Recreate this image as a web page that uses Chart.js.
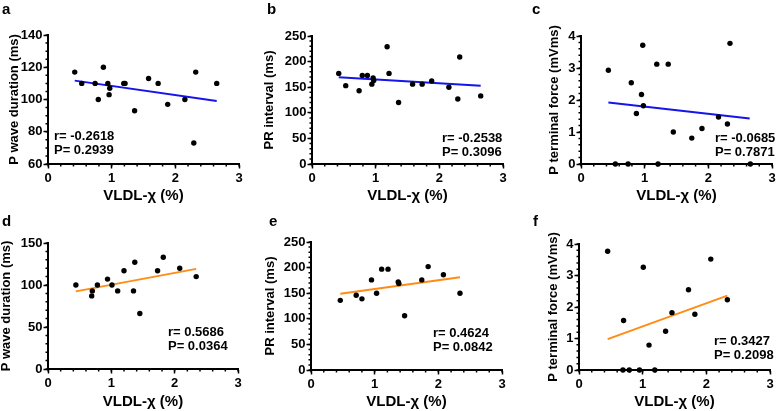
<!DOCTYPE html>
<html>
<head>
<meta charset="utf-8">
<script src="https://cdn.jsdelivr.net/npm/chart.js@4/dist/chart.umd.min.js"></script>
<style>
  body { margin: 0; background: #fff; }
  #wrap { position: relative; width: 778px; height: 411px; overflow: hidden; font-family: "Liberation Sans", Arial, sans-serif; }
  #wrap canvas { position: absolute; }
  .letter { position: absolute; font-weight: bold; font-size: 15px; line-height: 1; color: #000; }
</style>
</head>
<body>
<div id="wrap"></div>
<script>
// x values (VLDL-chi %)
const xA = [0.42, 0.53, 0.74, 0.79, 0.87, 0.94, 0.96, 0.97, 1.19, 1.21, 1.36, 1.58, 1.73, 1.88, 2.15, 2.29, 2.32, 2.65];
const yA = [117, 110, 110, 100, 120, 110, 103, 107, 110, 110, 93, 113, 110, 97, 100, 73, 117, 110];
const xB = [0.42, 0.53, 0.74, 0.79, 0.87, 0.94, 0.96, 0.97, 1.18, 1.21, 1.36, 1.58, 1.73, 1.88, 2.15, 2.29, 2.32, 2.65];
const yB = [177, 153, 143, 173, 173, 156, 168, 163, 229, 177, 120, 156, 156, 162, 150, 127, 209, 133];
const xC = [0.43, 0.54, 0.74, 0.79, 0.87, 0.95, 0.97, 0.98, 1.19, 1.21, 1.37, 1.45, 1.74, 1.90, 2.16, 2.30, 2.34, 2.66];
const yC = [2.93, 0, 0, 2.54, 1.58, 2.17, 3.71, 1.82, 3.12, 0, 3.12, 1.0, 0.81, 1.11, 1.47, 1.25, 3.77, 0];
const xD = [0.44, 0.70, 0.69, 0.78, 0.94, 1.01, 1.10, 1.20, 1.37, 1.35, 1.45, 1.73, 1.82, 2.08, 2.34];
const yD = [100, 93, 87, 100, 107, 100, 93, 117, 127, 93, 66, 117, 133, 120, 110];
const xE = [0.46, 0.71, 0.80, 0.95, 1.03, 1.11, 1.21, 1.37, 1.38, 1.47, 1.74, 1.84, 2.08, 2.34];
const yE = [136, 146, 139, 176, 150, 197, 197, 172, 169, 106, 176, 202, 186, 150];
const xF = [0.45, 0.70, 0.69, 0.79, 0.95, 1.01, 1.10, 1.19, 1.36, 1.46, 1.72, 1.82, 2.07, 2.33];
const yF = [3.77, 1.57, 0, 0, 0, 3.26, 0.79, 0, 1.23, 1.82, 2.55, 1.77, 3.52, 2.23];

// regression line end points
const fitXA = [0.42, 2.65], fitYA = [111.7, 99.0];
const fitXB = [0.42, 2.65], fitYB = [169.5, 152.6];
const fitXC = [0.43, 2.65], fitYC = [1.92, 1.42];
const fitXD = [0.44, 2.34], fitYD = [92.4, 119.2];
const fitXE = [0.46, 2.34], fitYE = [149, 181];
const fitXF = [0.45, 2.33], fitYF = [0.98, 2.36];

const rVals = ['r= -0.2618', 'r= -0.2538', 'r= -0.0685', 'r= 0.5686', 'r= 0.4624', 'r= 0.3427'];
const pVals = ['P= 0.2939', 'P= 0.3096', 'P= 0.7871', 'P= 0.0364', 'P= 0.0842', 'P= 0.2098'];

const xTitle = 'VLDL-\u03c7 (%)';
const yTitles = ['P wave duration (ms)', 'PR interval (ms)', 'P terminal force (mVms)',
                 'P wave duration (ms)', 'PR interval (ms)', 'P terminal force (mVms)'];
const letters = ['a', 'b', 'c', 'd', 'e', 'f'];

const BLUE = 'rgb(20,20,235)';
const ORANGE = 'rgb(255,140,20)';

// layout: canvas box [left, top, w, h], plot area [l, r, t, b] in page px
const panels = [
  { xs: xA, ys: yA, fx: fitXA, fy: fitYA, color: BLUE, canvas: [0, 0, 258, 205], area: [48, 239, 35, 164],
    y: [60, 140, 20, 5], titlePad: 7.5, note: [6, -28], letterPos: [2, 1] },
  { xs: xB, ys: yB, fx: fitXB, fy: fitYB, color: BLUE, canvas: [258, 0, 258, 205], area: [312, 503, 36, 164],
    y: [0, 250, 50, 10], titlePad: 4.5, note: [130, -26], letterPos: [267, 1] },
  { xs: xC, ys: yC, fx: fitXC, fy: fitYC, color: BLUE, canvas: [516, 0, 262, 205], area: [581, 772, 36, 164],
    y: [0, 4, 1, 0.2], titlePad: 31.5, note: [134, -26], letterPos: [532, 1] },
  { xs: xD, ys: yD, fx: fitXD, fy: fitYD, color: ORANGE, canvas: [0, 205, 258, 206], area: [48, 238, 243, 369],
    y: [0, 150, 50, 10], titlePad: 0, note: [120, -37], letterPos: [2, 213] },
  { xs: xE, ys: yE, fx: fitXE, fy: fitYE, color: ORANGE, canvas: [258, 205, 258, 206], area: [311, 502, 242, 370],
    y: [0, 250, 50, 10], titlePad: 5.5, note: [122, -37], letterPos: [269, 213] },
  { xs: xF, ys: yF, fx: fitXF, fy: fitYF, color: ORANGE, canvas: [516, 205, 262, 206], area: [579, 770, 244, 370],
    y: [0, 4, 1, 0.2], titlePad: 30.5, note: [135, -29], letterPos: [533, 213] }
];

Chart.defaults.font.family = '"Liberation Sans", Arial, sans-serif';
Chart.defaults.font.weight = 'bold';
Chart.defaults.color = '#000';

// minor ticks and r / P text
const extras = {
  id: 'extras',
  afterDraw(chart, args, opts) {
    const ctx = chart.ctx, sx = chart.scales.x, sy = chart.scales.y, a = chart.chartArea;
    ctx.save();
    ctx.strokeStyle = '#000';
    ctx.lineWidth = 1.5;
    ctx.beginPath();
    const nx = Math.round((sx.max - sx.min) / opts.xMinor);
    for (let i = 0; i <= nx; i++) {
      const px = sx.getPixelForValue(sx.min + i * opts.xMinor);
      ctx.moveTo(px, a.bottom);
      ctx.lineTo(px, a.bottom + 2.5);
    }
    const ny = Math.round((sy.max - sy.min) / opts.yMinor);
    for (let i = 0; i <= ny; i++) {
      const py = sy.getPixelForValue(sy.min + i * opts.yMinor);
      ctx.moveTo(a.left, py);
      ctx.lineTo(a.left - 2.5, py);
    }
    ctx.stroke();
    ctx.fillStyle = '#000';
    ctx.font = 'bold 13px "Liberation Sans", Arial, sans-serif';
    ctx.textBaseline = 'middle';
    ctx.textAlign = 'left';
    ctx.fillText(opts.r, a.left + opts.note[0], a.bottom + opts.note[1]);
    ctx.fillText(opts.p, a.left + opts.note[0], a.bottom + opts.note[1] + 14);
    ctx.restore();
  }
};

const wrap = document.getElementById('wrap');

panels.forEach((p, i) => {
  const [cx, cy, cw, ch] = p.canvas;
  const [l, r, t, b] = p.area;
  const canvas = document.createElement('canvas');
  canvas.width = cw;
  canvas.height = ch;
  canvas.style.left = cx + 'px';
  canvas.style.top = cy + 'px';
  wrap.appendChild(canvas);

  const lab = document.createElement('div');
  lab.className = 'letter';
  lab.textContent = letters[i];
  lab.style.left = p.letterPos[0] + 'px';
  lab.style.top = p.letterPos[1] + 'px';
  wrap.appendChild(lab);

  const yWidth = l - cx;
  const xHeight = cy + ch - b;

  new Chart(canvas, {
    type: 'scatter',
    data: {
      datasets: [
        {
          data: p.xs.map((x, k) => ({ x: x, y: p.ys[k] })),
          pointRadius: 2.7,
          pointBackgroundColor: '#000',
          pointBorderWidth: 0,
          clip: false
        },
        {
          data: p.fx.map((x, k) => ({ x: x, y: p.fy[k] })),
          showLine: true,
          borderColor: p.color,
          borderWidth: 2,
          pointRadius: 0
        }
      ]
    },
    options: {
      responsive: false,
      animation: false,
      devicePixelRatio: 1,
      layout: { padding: { top: t - cy, right: cx + cw - r, left: 0, bottom: 0 } },
      plugins: {
        legend: { display: false },
        tooltip: { enabled: false },
        extras: { xMinor: 0.2, yMinor: p.y[3], r: rVals[i], p: pVals[i], note: p.note }
      },
      scales: {
        x: {
          type: 'linear',
          min: 0, max: 3,
          afterFit: s => { s.height = xHeight; },
          ticks: { stepSize: 1, padding: 2, font: { size: 13, weight: 'bold' }, color: '#000' },
          grid: { drawOnChartArea: false, tickLength: 4.5, tickWidth: 1.5, tickColor: '#000' },
          border: { color: '#000', width: 2 },
          title: { display: true, text: xTitle, font: { size: 15, weight: 'bold', lineHeight: 1 },
                   padding: { top: 0, bottom: 1.5 }, color: '#000' }
        },
        y: {
          min: p.y[0], max: p.y[1],
          afterFit: s => { s.width = yWidth; },
          ticks: { stepSize: p.y[2], padding: 1, font: { size: 13, weight: 'bold' }, color: '#000' },
          grid: { drawOnChartArea: false, tickLength: 4.5, tickWidth: 1.5, tickColor: '#000' },
          border: { color: '#000', width: 2 },
          title: { display: true, text: yTitles[i], font: { size: 13, weight: 'bold', lineHeight: 1 },
                   padding: { top: p.titlePad, bottom: 0 }, color: '#000' }
        }
      }
    },
    plugins: [extras]
  });
});
</script>
</body>
</html>
